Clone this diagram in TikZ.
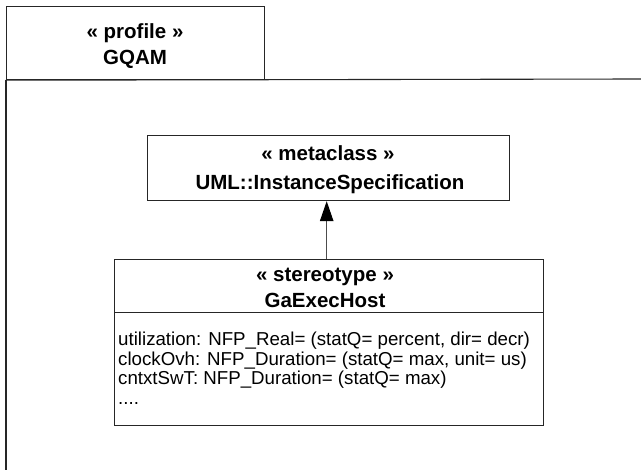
\documentclass[tikz,border=0pt]{standalone}
\usepackage{fontspec}
\setmainfont{Liberation Sans}
\usetikzlibrary{arrows.meta}
\begin{document}
\begin{tikzpicture}[x=1pt,y=-1pt,
  frame/.style={draw=black!85, line width=1.1pt},
  umlbox/.style={draw=black!85, line width=1.2pt, fill=white, inner sep=0pt, anchor=north west},
  head/.style={inner sep=0pt, anchor=base, font=\fontsize{20.5}{24}\selectfont\bfseries},
  attr/.style={inner sep=0pt, anchor=base west, font=\fontsize{18.7}{20}\selectfont},
  ext/.style={draw=black!70, line width=1pt, -{Triangle[length=20pt,width=13.5pt,color=black]}}]
\useasboundingbox (0,0) rectangle (641,470);
% package frame
\node[umlbox, minimum width=258pt, minimum height=73pt] (tab) at (6,6) {};
\coordinate (frameBL) at (6,470);
\coordinate (frameR) at (641,79);
\draw[frame] (tab.south west) -- (frameBL);
\draw[frame] (tab.south west) -- (frameR);
\node[head] (tab1) at (135,38.3) {« profile »};
\node[head] (tab2) at (135,64.3) {GQAM};
% metaclass
\node[umlbox, minimum width=362pt, minimum height=65pt] (meta) at (147,135) {};
\node[head] (meta1) at (328,161) {« metaclass »};
\node[head] (meta2) at (330,190) {UML::InstanceSpecification};
% stereotype
\node[umlbox, minimum width=429pt, minimum height=166pt] (st) at (114,259) {};
\coordinate (sepL) at (114,312.7);
\coordinate (sepR) at (543,312.7);
\draw[draw=black!85, line width=1.1pt] (sepL) -- (sepR);
\node[head] (st1) at (325,282) {« stereotype »};
\node[head] (st2) at (325,307.5) {GaExecHost};
\node[attr] (a1) at (118,345.5) {utilization: NFP\_Real= (statQ= percent, dir= decr)};
\node[attr] (a2) at (118,365.2) {clockOvh: NFP\_Duration= (statQ= max, unit= us)};
\node[attr] (a3) at (118,384.9) {cntxtSwT: NFP\_Duration= (statQ= max)};
\node[attr] (a4) at (118,404.5) {....};
% extension arrow
\coordinate (ax) at (326.7,230);
\draw[ext] (st.north -| ax) -- (meta.south -| ax);
\end{tikzpicture}
\end{document}
